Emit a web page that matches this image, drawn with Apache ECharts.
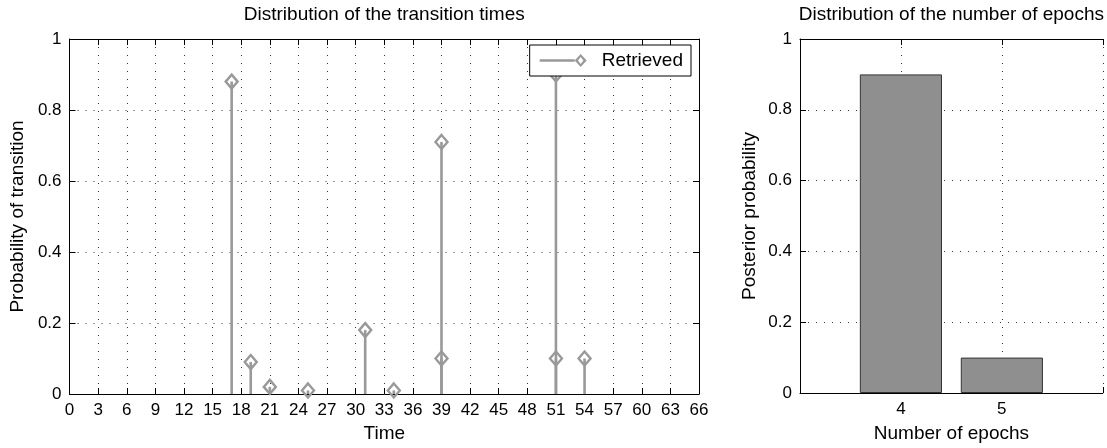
<!DOCTYPE html>
<html>
<head>
<meta charset="utf-8">
<script src="https://cdn.jsdelivr.net/npm/echarts@6/dist/echarts.min.js"></script>
<style>
  html, body { margin: 0; padding: 0; background: #fff; }
  #chart { width: 1107px; height: 448px; }
</style>
</head>
<body>
<div id="chart"></div>
<script>
// Transition times and their posterior probabilities (stem plot)
const transitionTimes = [17, 19, 21, 25, 31, 34, 39, 39, 51, 51, 54];
const transitionProbs = [0.88, 0.09, 0.02, 0.01, 0.18, 0.01, 0.71, 0.10, 0.90, 0.10, 0.10];

// Number of epochs and their posterior probabilities (bar plot)
const epochCounts = [4, 5];
const epochProbs = [0.9, 0.1];

const FONT = '"Liberation Sans", Arial, Helvetica, sans-serif';
const STEM = '#999999';
const BAR = '#8f8f8f';

const leftGrid = { left: 66, top: 38, width: 633, height: 363 };
const rightGrid = { left: 800, top: 38, width: 308, height: 363 };
const epochSpan = 3; // x range of the right axes: 3..6

const labelStyle = { color: '#000', fontFamily: FONT, fontSize: 17 };
const nameStyle = { color: '#000', fontFamily: FONT, fontSize: 19 };
const lineStyle = { color: '#000', width: 1 };
const tickStyle = { show: true, inside: true, length: 6, lineStyle: { color: '#000', width: 1 } };
const gridDots = { show: true, lineStyle: { color: '#333', width: 1, type: [1, 7] } };

function boxAxis(base, extra) {
  return Object.assign({
    axisLine: { show: true, onZero: false, lineStyle: lineStyle },
    axisTick: tickStyle,
    axisLabel: Object.assign({ margin: 8 }, labelStyle),
    nameTextStyle: nameStyle,
    nameLocation: 'middle'
  }, base, extra);
}

const stemData = transitionTimes.map((t, i) => [t, transitionProbs[i]]);
const epochData = epochCounts.map((n, i) => [n, epochProbs[i]]);

const chart = echarts.init(document.getElementById('chart'), null, { renderer: 'canvas' });

chart.setOption({
  animation: false,
  backgroundColor: '#fff',
  grid: [
    Object.assign({ show: false, containLabel: false }, leftGrid),
    Object.assign({ show: false, containLabel: false }, rightGrid)
  ],
  legend: {
    data: [{
      name: 'Retrieved',
      // stem line ending in an open diamond
      icon: 'path://M0,5.3 L35,5.3 L35,7.7 L0,7.7 Z M41,0 L47,6.5 L41,13 L35,6.5 Z M41,2.9 L38.3,6.5 L41,10.1 L43.7,6.5 Z'
    }],
    right: 416,
    top: 45,
    itemWidth: 47,
    itemHeight: 13,
    padding: [6, 8, 6, 10],
    backgroundColor: '#fff',
    borderColor: '#000',
    borderWidth: 1,
    borderRadius: 0,
    selectedMode: false,
    textStyle: { color: '#000', fontFamily: FONT, fontSize: 19, padding: [0, 0, 0, 10] },
    z: 10
  },
  xAxis: [
    boxAxis({ gridIndex: 0, type: 'value', min: 0, max: 66, interval: 3, position: 'bottom',
      name: 'Time', nameGap: 30, splitLine: gridDots }),
    boxAxis({ gridIndex: 0, type: 'value', min: 0, max: 66, interval: 3, position: 'top',
      name: 'Distribution of the transition times', nameGap: 15,
      axisLabel: { show: false }, splitLine: { show: false } }),
    boxAxis({ gridIndex: 1, type: 'value', min: 3, max: 6, interval: 1, position: 'bottom',
      name: 'Number of epochs', nameGap: 31, splitLine: gridDots,
      axisLabel: Object.assign({ margin: 8,
        formatter: v => (epochCounts.indexOf(v) >= 0 ? String(v) : '') }, labelStyle) }),
    boxAxis({ gridIndex: 1, type: 'value', min: 3, max: 6, interval: 1, position: 'top',
      name: 'Distribution of the number of epochs', nameGap: 15,
      axisLabel: { show: false }, splitLine: { show: false } })
  ],
  yAxis: [
    boxAxis({ gridIndex: 0, type: 'value', min: 0, max: 1, interval: 0.2, position: 'left',
      name: 'Probability of transition', nameGap: 42, nameRotate: 90, splitLine: gridDots }),
    boxAxis({ gridIndex: 0, type: 'value', min: 0, max: 1, interval: 0.2, position: 'right',
      axisLabel: { show: false }, splitLine: { show: false } }),
    boxAxis({ gridIndex: 1, type: 'value', min: 0, max: 1, interval: 0.2, position: 'left',
      name: 'Posterior probability', nameGap: 41, nameRotate: 90, splitLine: gridDots })
  ],
  series: [
    {
      name: 'Retrieved',
      type: 'custom',
      xAxisIndex: 0,
      yAxisIndex: 0,
      clip: false,
      itemStyle: { color: STEM },
      encode: { x: 0, y: 1 },
      data: stemData,
      renderItem: function (params, api) {
        const x = api.value(0);
        const y = api.value(1);
        const base = api.coord([x, 0]);
        const top = api.coord([x, y]);
        const hw = 6, hh = 7;
        return {
          type: 'group',
          children: [
            {
              type: 'line',
              shape: { x1: base[0], y1: base[1], x2: top[0], y2: top[1] },
              style: { stroke: STEM, lineWidth: 2.6 }
            },
            {
              type: 'polygon',
              shape: { points: [
                [top[0], top[1] - hh], [top[0] + hw, top[1]],
                [top[0], top[1] + hh], [top[0] - hw, top[1]]
              ] },
              style: { fill: 'none', stroke: STEM, lineWidth: 2.4 }
            }
          ]
        };
      },
      z: 3
    },
    {
      name: 'Epochs',
      type: 'bar',
      xAxisIndex: 2,
      yAxisIndex: 2,
      data: epochData,
      barWidth: 0.8 * rightGrid.width / epochSpan,
      itemStyle: { color: BAR, borderColor: '#333', borderWidth: 1 },
      z: 3
    }
  ]
});
</script>
</body>
</html>
